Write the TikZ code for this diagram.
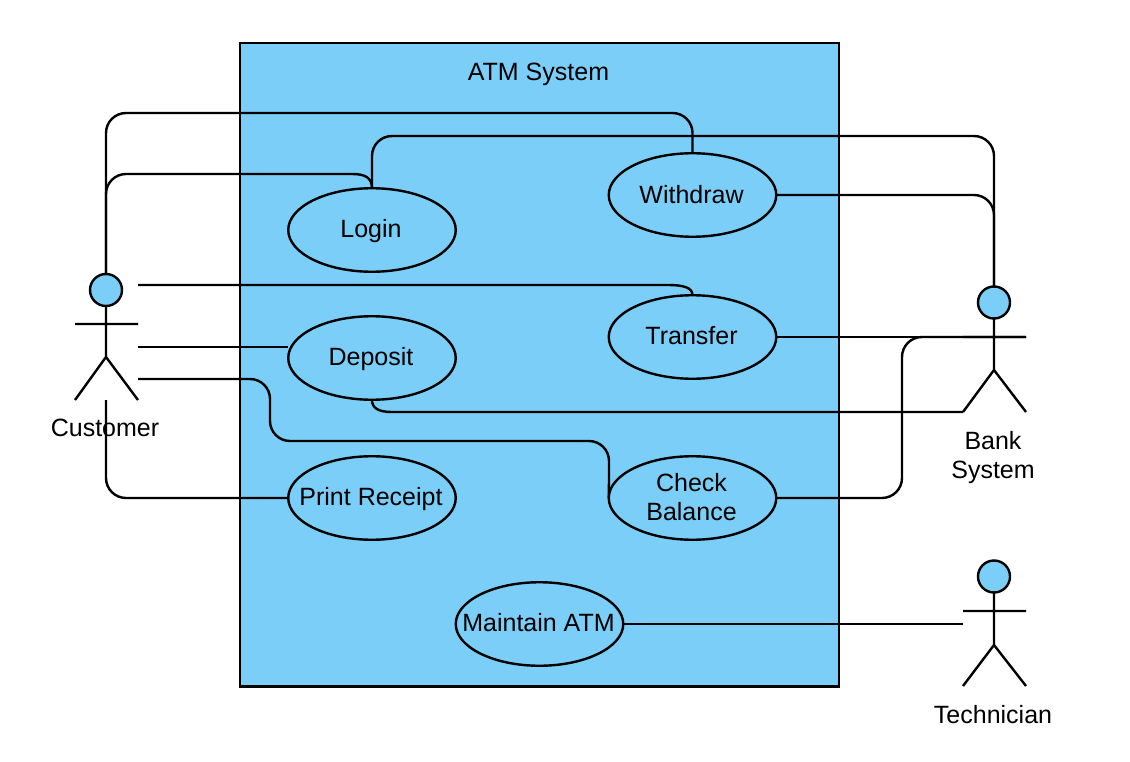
\documentclass[tikz,border=0pt]{standalone}
\usepackage{fontspec}
\setmainfont{Liberation Sans}
\usetikzlibrary{shapes.geometric}
\definecolor{sysblue}{HTML}{7ACEF7}
\pgfdeclarelayer{boxlayer}
\pgfdeclarelayer{edgelayer}
\pgfsetlayers{boxlayer,edgelayer,main}
\tikzset{
  line/.style={draw=black,line width=2.4pt},
  usecase/.style={ellipse,line,fill=sysblue,minimum width=167.5pt,minimum height=83.5pt,inner sep=0pt,outer sep=0pt},
  head/.style={circle,line,fill=sysblue,minimum size=32pt,inner sep=0pt,outer sep=0pt},
  system/.style={rectangle,line,fill=sysblue,minimum width=599pt,minimum height=643pt,inner sep=0pt,outer sep=0pt},
  txt/.style={align=center,inner sep=0pt,font=\fontsize{25}{29}\selectfont},
  conn/.style={line,rounded corners=20pt},
  tight/.style={line,rounded corners=10pt}
}
\begin{document}
\begin{tikzpicture}[x=1pt,y=-1pt]
\useasboundingbox (0,0) rectangle (1130,762);
\begin{pgfonlayer}{boxlayer}
\node[system] (sys) at (539.5,364.8) {};
\end{pgfonlayer}
\node[txt] (title) at (538.5,74) {ATM System};
% use cases
\node[usecase] (withdraw) at (692.5,195) {};
\node[usecase] (login) at (372,230) {};
\node[usecase] (transfer) at (692.5,337) {};
\node[usecase] (deposit) at (372,358) {};
\node[usecase] (print) at (372,498) {};
\node[usecase] (check) at (692.5,498) {};
\node[usecase] (maintain) at (539.5,624) {};
\node[txt] (twithdraw) at (691.5,194.5) {Withdraw};
\node[txt] (tlogin) at (371,231) {Login};
\node[txt] (ttransfer) at (691.5,336) {Transfer};
\node[txt] (tdeposit) at (371,359) {Deposit};
\node[txt] (tprint) at (371,499) {Print Receipt};
\node[txt] (tcheck) at (691.5,497) {Check\\Balance};
\node[txt] (tmaintain) at (538.5,623) {Maintain ATM};
% actors
\node[head] (cust) at (106,290) {};
\coordinate (custAL) at (75,324);
\coordinate (custAR) at (138,324);
\coordinate (custHip) at (106,357);
\coordinate (custFL) at (75,400);
\coordinate (custFR) at (138,400);
\coordinate (custFC) at (106,400);
\coordinate (custA) at (138,285);
\coordinate (custB) at (138,347);
\coordinate (custC) at (138,379);
\draw[line] (cust.south) -- (custHip) (custAL) -- (custAR) (custFL) -- (custHip) -- (custFR);
\node[txt] (custname) at (105,428) {Customer};

\node[head] (bank) at (994,302.5) {};
\coordinate (bankAL) at (963,337);
\coordinate (bankAR) at (1026,337);
\coordinate (bankHip) at (994,370);
\coordinate (bankFL) at (963,412);
\coordinate (bankFR) at (1026,412);
\draw[line] (bank.south) -- (bankHip) (bankAL) -- (bankAR) (bankFL) -- (bankHip) -- (bankFR);
\node[txt] (bankname) at (993,457.5) {Bank\\System};

\node[head] (tech) at (994,576.5) {};
\coordinate (techAL) at (963,611);
\coordinate (techAR) at (1026,611);
\coordinate (techHip) at (994,645);
\coordinate (techFL) at (963,686);
\coordinate (techFR) at (1026,686);
\coordinate (techT) at (963,624);
\draw[line] (tech.south) -- (techHip) (techAL) -- (techAR) (techFL) -- (techHip) -- (techFR);
\node[txt] (techname) at (993,715) {Technician};

\begin{pgfonlayer}{edgelayer}
\draw[conn] (cust.north) -- (106,113) -- (692.5,113) -- (withdraw.north);
\draw[conn] (cust.north) -- (106,174) -- (340,174);
\draw[line] (340,174) -- (352,174) .. controls (364,174) and (372,177) .. (login.north);
\draw[line] (custA) -- (668,285) .. controls (682,285) and (692.5,287) .. (transfer.north);
\draw[line] (custB) -- (deposit.west |- custB);
\draw[conn] (custC) -- (270,379) -- (270,441) -- (609,441) -- (609,480);
\draw[line] (609,480) -- (check.west);
\draw[conn] (custFC) -- (106,498) -- (print.west);
\draw[conn] (login.north) -- (372,136) -- (994,136) -- (bank.north);
\draw[conn] (withdraw.east) -- (994,195) -- (bank.north);
\draw[line] (transfer.east) -- (bankAR);
\draw[conn] (check.east) -- (902,498) -- (902,337) -- (bankAR);
\draw[line] (deposit.south) .. controls (372,408) and (378,412) .. (392,412) -- (bankFL);
\draw[line] (maintain.east) -- (techT);
\end{pgfonlayer}
\end{tikzpicture}
\end{document}
